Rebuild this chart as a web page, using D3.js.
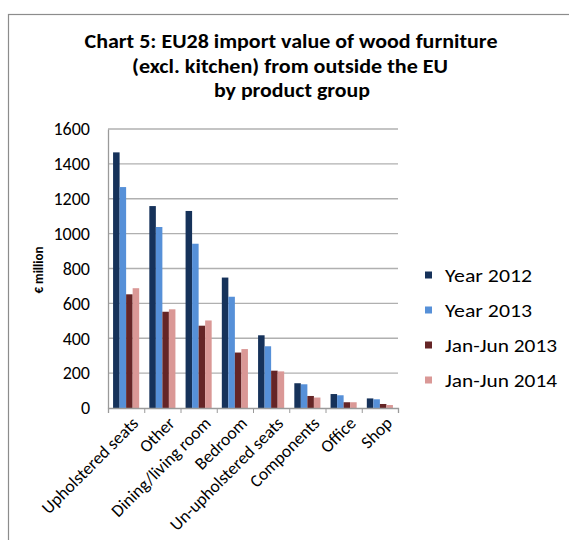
<!DOCTYPE html>
<html><head><meta charset="utf-8">
<script src="https://cdn.jsdelivr.net/npm/d3@7"></script>
<style>body{margin:0;background:#fff}svg{display:block}</style>
</head><body>
<svg id="c" width="569" height="540"></svg>
<script>
const categories = ["Upholstered seats","Other","Dining/living room","Bedroom","Un-upholstered seats","Components","Office","Shop"];
const seriesNames = ["Year 2012","Year 2013","Jan-Jun 2013","Jan-Jun 2014"];
const year2012 = [1466,1158,1130,748,417,142,80,55];
const year2013 = [1267,1038,942,638,354,136,73,50];
const janJun2013 = [652,552,472,318,214,69,33,23];
const janJun2014 = [687,566,502,338,210,60,33,17];
const yTicks = [0,200,400,600,800,1000,1200,1400,1600];
const colors = ["#16325A","#5690D8","#652526","#DA9896"];
const titleLines = ["Chart 5: EU28 import value of wood furniture","(excl. kitchen) from outside the EU","by product group"];

const series = [year2012,year2013,janJun2013,janJun2014];
const svg = d3.select("#c");
const font = "Carlito, Calibri, 'Liberation Sans', sans-serif";

// frame
svg.append("rect").attr("x",8.5).attr("y",14.5).attr("width",600).attr("height",600)
  .attr("fill","none").attr("stroke","#8c8c8c").attr("stroke-width",1.2);

const x0 = d3.scaleBand().domain(categories).range([108,398]).paddingInner(0.28).paddingOuter(0.14);
const x1 = d3.scaleBand().domain(seriesNames).range([0,x0.bandwidth()]);
const y = d3.scaleLinear().domain([0,1600]).range([408,129]);

// gridlines
svg.append("g").selectAll("line").data(yTicks.filter(d=>d>0)).join("line")
  .attr("x1",108).attr("x2",398).attr("y1",d=>y(d)).attr("y2",d=>y(d))
  .attr("stroke","#b0b0b0").attr("stroke-width",1.3);

// y axis
const ya = svg.append("g").attr("transform","translate(108,0)")
  .call(d3.axisLeft(y).tickValues(yTicks).tickSize(0).tickPadding(18).tickFormat(d3.format("d")));
ya.select(".domain").attr("stroke","#9a9a9a").attr("stroke-width",1.3);
ya.selectAll("text").attr("font-family",font).attr("font-size",18).attr("fill","#000");

// bars
const g = svg.append("g");
categories.forEach((c,i)=>{
  series.forEach((s,j)=>{
    g.append("rect").attr("x",x0(c)+x1(seriesNames[j])).attr("width",x1.bandwidth())
      .attr("y",y(s[i])).attr("height",y(0)-y(s[i])).attr("fill",colors[j]);
  });
});

// x axis
const xs = d3.scaleLinear().domain([0,categories.length]).range([108,398]);
const xa = svg.append("g").attr("transform","translate(0,408)")
  .call(d3.axisBottom(xs).ticks(8).tickSize(5).tickFormat(""));
xa.select(".domain").attr("stroke","#9a9a9a").attr("stroke-width",1.3);
xa.selectAll(".tick line").attr("stroke","#9a9a9a");

svg.append("g").selectAll("text").data(categories).join("text")
  .attr("transform",d=>`translate(${x0(d)+x0.bandwidth()/2+9},420) rotate(-45)`)
  .attr("text-anchor","end").attr("dy","0.35em")
  .attr("font-family",font).attr("font-size",17.5).attr("fill","#000").text(d=>d);

// y title
svg.append("text").attr("transform","translate(43,270) rotate(-90)")
  .attr("text-anchor","middle").attr("font-family",font).attr("font-size",13)
  .attr("font-weight","bold").text("€ million");

// title
const tx = [291,290,292], ty=[48,73,97], tw=[413,316,156];
titleLines.forEach((t,i)=>{
  svg.append("text").attr("x",tx[i]).attr("y",ty[i]).attr("text-anchor","middle")
    .attr("font-family",font).attr("font-weight","bold").attr("font-size",20)
    .attr("textLength",tw[i]).attr("lengthAdjust","spacingAndGlyphs").text(t);
});

// legend
const lg = svg.append("g");
const lw = [87,87,112,112];
seriesNames.forEach((n,j)=>{
  const cy = 275 + j*35;
  lg.append("rect").attr("x",425).attr("y",cy-3.5).attr("width",7).attr("height",7).attr("fill",colors[j]);
  lg.append("text").attr("x",445).attr("y",cy).attr("dy","0.35em")
    .attr("font-family",font).attr("font-size",19).attr("fill","#000")
    .attr("textLength",lw[j]).attr("lengthAdjust","spacingAndGlyphs").text(n);
});
</script>
</body></html>
